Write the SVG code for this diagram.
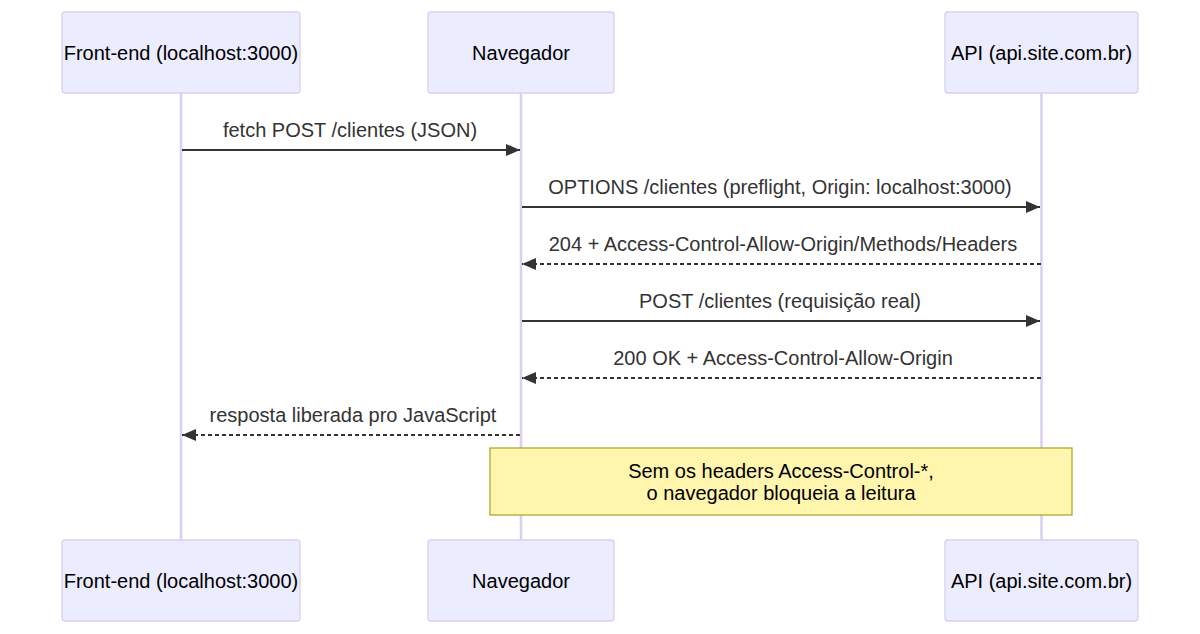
<svg xmlns="http://www.w3.org/2000/svg" width="1200" height="634" viewBox="0 0 1200 634">
<style>
.actor{fill:#ECECFF;stroke:#dacef3;stroke-width:1.3}
.atext{font-family:"Liberation Sans",Arial,sans-serif;font-size:20px;fill:#000;text-anchor:middle;dominant-baseline:central}
.life{stroke:#dacef3;stroke-width:2.5;fill:none}
.msg{stroke:#333;stroke-width:2;fill:none}
.dash{stroke-dasharray:4,3}
.mtext{font-family:"Liberation Sans",Arial,sans-serif;font-size:20px;fill:#333;text-anchor:middle;dominant-baseline:central}
.note{fill:#fff5ad;stroke:#aaaa33;stroke-width:1.3}
.ntext{font-family:"Liberation Sans",Arial,sans-serif;font-size:20px;fill:#000;text-anchor:middle;dominant-baseline:central}
</style>
<defs>
<marker id="arrow" markerUnits="userSpaceOnUse" markerWidth="16" markerHeight="14" refX="14" refY="6" orient="auto">
<path d="M0,0 L14,6 L0,12 z" fill="#333"/>
</marker>
</defs>
<rect width="1200" height="634" fill="#fff"/>
<g id="lifelines">
<line class="life" x1="181" y1="93" x2="181" y2="540"/>
<line class="life" x1="521" y1="93" x2="521" y2="540"/>
<line class="life" x1="1041.5" y1="93" x2="1041.5" y2="540"/>
</g>
<g id="actor-frontend-top"><rect class="actor" x="62" y="12" width="238" height="81" rx="3"/><text class="atext" x="181" y="52.5">Front-end (localhost:3000)</text></g>
<g id="actor-navegador-top"><rect class="actor" x="428" y="12" width="186" height="81" rx="3"/><text class="atext" x="521" y="52.5">Navegador</text></g>
<g id="actor-api-top"><rect class="actor" x="945" y="12" width="193" height="81" rx="3"/><text class="atext" x="1041.5" y="52.5">API (api.site.com.br)</text></g>
<g id="actor-frontend-bottom"><rect class="actor" x="62" y="540" width="238" height="81" rx="3"/><text class="atext" x="181" y="580.5">Front-end (localhost:3000)</text></g>
<g id="actor-navegador-bottom"><rect class="actor" x="428" y="540" width="186" height="81" rx="3"/><text class="atext" x="521" y="580.5">Navegador</text></g>
<g id="actor-api-bottom"><rect class="actor" x="945" y="540" width="193" height="81" rx="3"/><text class="atext" x="1041.5" y="580.5">API (api.site.com.br)</text></g>
<g id="connectors">
<line class="msg" x1="182" y1="150" x2="520" y2="150" marker-end="url(#arrow)"/>
<text class="mtext" x="350" y="130">fetch POST /clientes (JSON)</text>
<line class="msg" x1="522" y1="207" x2="1040" y2="207" marker-end="url(#arrow)"/>
<text class="mtext" x="780" y="187">OPTIONS /clientes (preflight, Origin: localhost:3000)</text>
<line class="msg dash" x1="1041" y1="264" x2="522" y2="264" marker-end="url(#arrow)"/>
<text class="mtext" x="783" y="244">204 + Access-Control-Allow-Origin/Methods/Headers</text>
<line class="msg" x1="522" y1="321" x2="1040" y2="321" marker-end="url(#arrow)"/>
<text class="mtext" x="780" y="301">POST /clientes (requisição real)</text>
<line class="msg dash" x1="1041" y1="378" x2="522" y2="378" marker-end="url(#arrow)"/>
<text class="mtext" x="783" y="358">200 OK + Access-Control-Allow-Origin</text>
<line class="msg dash" x1="520" y1="435" x2="182" y2="435" marker-end="url(#arrow)"/>
<text class="mtext" x="353" y="415">resposta liberada pro JavaScript</text>
</g>
<g id="note">
<rect class="note" x="490" y="448" width="582" height="67"/>
<text class="ntext" x="781" y="471">Sem os headers Access-Control-*,</text>
<text class="ntext" x="781" y="493">o navegador bloqueia a leitura</text>
</g>
</svg>
